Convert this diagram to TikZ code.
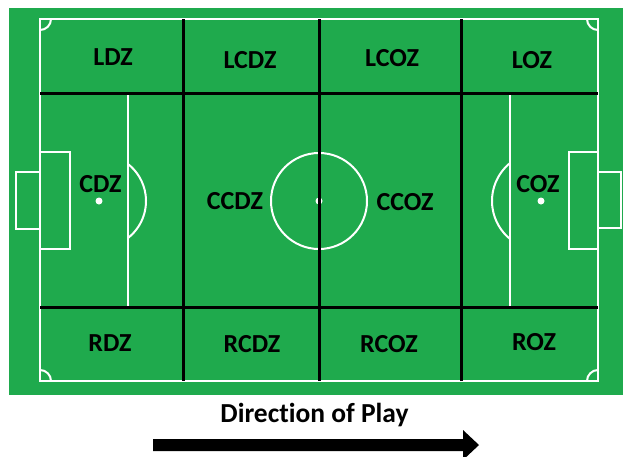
\documentclass[tikz,border=0pt]{standalone}
\usepackage{fontspec}
\setmainfont{Carlito}[Ligatures=NoCommon]
\definecolor{pitch}{RGB}{31,170,77}
\begin{document}
\begin{tikzpicture}[x=1pt,y=-1pt,
  wline/.style={draw=white,line width=2pt},
  bline/.style={draw=black,line width=3pt},
  zone/.style={font=\fontsize{26}{30}\selectfont\bfseries,text=black,inner sep=0pt},
  spot/.style={fill=white}]
\useasboundingbox (0,0) rectangle (623,456);
\clip (0,0) rectangle (623,456);
% pitch
\fill[pitch] (9,8) rectangle (623,395);
% white markings
\draw[wline] (40,19) rectangle (598,381);
\draw[wline] (16,172) rectangle (40,229);
\draw[wline] (598,172) rectangle (621,228);
\draw[wline] (40,152) rectangle (70,249);
\draw[wline] (569,152) rectangle (598,249);
\draw[wline] (128,93) -- (128,307);
\draw[wline] (510,93) -- (510,307);
\coordinate (pl) at (99,201);
\coordinate (pr) at (541,201);
\coordinate (cc) at (319,201);
\draw[wline] ([shift={(-52:47pt)}]pl) arc[start angle=-52,end angle=52,radius=47pt];
\draw[wline] ([shift={(129:49pt)}]pr) arc[start angle=129,end angle=231,radius=49pt];
\draw[wline] (cc) circle[radius=48pt];
\fill[spot] (pl) circle[radius=3.5pt];
\fill[spot] (pr) circle[radius=3.5pt];
\fill[spot] (cc) circle[radius=3.5pt];
% corner arcs
\draw[wline] (51,19) arc[start angle=0,end angle=-90,radius=11pt];
\draw[wline] (587,19) arc[start angle=180,end angle=270,radius=11pt];
\draw[wline] (51,381) arc[start angle=0,end angle=90,radius=11pt];
\draw[wline] (587,381) arc[start angle=180,end angle=90,radius=11pt];
% black zone lines
\draw[bline] (40,93) -- (598,93);
\draw[bline] (40,307) -- (598,307);
\draw[bline] (183,19) -- (183,381);
\draw[bline] (319,19) -- (319,381);
\draw[bline] (461,19) -- (461,381);
% zone labels
\node[zone] (ldz)  at (113,57)   {LDZ};
\node[zone] (lcdz) at (250,60.5) {LCDZ};
\node[zone] (lcoz) at (392,58)   {LCOZ};
\node[zone] (loz)  at (532,60)   {LOZ};
\node[zone] (cdz)  at (100.5,184){CDZ};
\node[zone] (ccdz) at (235,201)  {CCDZ};
\node[zone] (ccoz) at (405,202)  {CCOZ};
\node[zone] (coz)  at (538,184.5){COZ};
\node[zone] (rdz)  at (110,343)  {RDZ};
\node[zone] (rcdz) at (252,344)  {RCDZ};
\node[zone] (rcoz) at (389,344)  {RCOZ};
\node[zone] (roz)  at (534,342)  {ROZ};
% direction of play
\node[font=\fontsize{27.5}{32}\selectfont\bfseries,inner sep=0pt,anchor=base] (dir) at (314.5,422.7) {Direction of Play};
\fill[black] (153,439) -- (463,439) -- (463,430) -- (479,445) -- (463,460) -- (463,451) -- (153,451) -- cycle;
\end{tikzpicture}
\end{document}
